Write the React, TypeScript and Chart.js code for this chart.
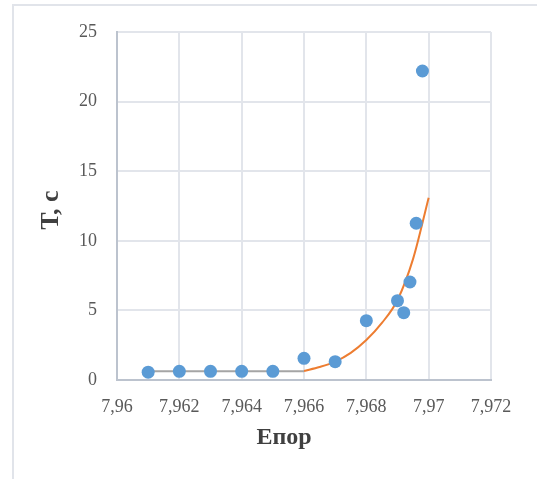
import React, { useEffect, useRef } from 'react';
import { Chart, registerables } from 'chart.js';

Chart.register(...registerables);

// Measured points
const pointX = [7.961, 7.962, 7.963, 7.964, 7.965, 7.966, 7.967, 7.968, 7.969, 7.9692, 7.9694, 7.9696, 7.9698];
const pointT = [0.56, 0.62, 0.62, 0.62, 0.62, 1.56, 1.32, 4.26, 5.7, 4.84, 7.04, 11.26, 22.2];

// Flat (gray) segment
const flatX = [7.961, 7.966];
const flatT = [0.62, 0.62];

// Trend (orange) curve
const trendX = [7.966, 7.9665, 7.967, 7.9675, 7.968, 7.9685, 7.969, 7.9695, 7.97];
const trendT = [0.65, 0.93, 1.32, 1.95, 2.87, 4.1, 5.75, 8.7, 13.1];

// Ticks
const xTickValues = [7.96, 7.962, 7.964, 7.966, 7.968, 7.97, 7.972];
const xTickLabels = ['7,96', '7,962', '7,964', '7,966', '7,968', '7,97', '7,972'];
const yTickValues = [0, 5, 10, 15, 20, 25];
const yTickLabels = ['0', '5', '10', '15', '20', '25'];

const xTitle = 'Епор';
const yTitle = 'Т, с';

const SERIF = '"Liberation Serif", "Times New Roman", serif';

const titlePlugin = {
  id: 'axisTitlesCustom',
  afterDraw(chart: any) {
    const ctx = chart.ctx;
    const area = chart.chartArea;
    ctx.save();
    ctx.fillStyle = '#404040';
    ctx.textAlign = 'center';
    ctx.textBaseline = 'alphabetic';
    ctx.font = 'bold 24px ' + SERIF;
    ctx.fillText(xTitle, area.left + 167, 444);
    ctx.translate(58, (area.top + area.bottom) / 2 + 4);
    ctx.rotate(-Math.PI / 2);
    ctx.font = 'bold 26px ' + SERIF;
    ctx.fillText(yTitle, 0, 0);
    ctx.restore();
  },
};

export default function App() {
  const ref = useRef<HTMLCanvasElement | null>(null);

  useEffect(() => {
    if (!ref.current) return;
    const chart = new Chart(ref.current, {
      type: 'scatter',
      data: {
        datasets: [
          {
            label: 'T',
            data: pointX.map((x, i) => ({ x, y: pointT[i] })),
            backgroundColor: '#5B9BD5',
            borderColor: '#5B9BD5',
            borderWidth: 0,
            pointRadius: 6.5,
            showLine: false,
          },
          {
            label: 'flat',
            data: flatX.map((x, i) => ({ x, y: flatT[i] })),
            borderColor: '#A5A5A5',
            borderWidth: 2,
            pointRadius: 0,
            showLine: true,
          },
          {
            label: 'trend',
            data: trendX.map((x, i) => ({ x, y: trendT[i] })),
            borderColor: '#ED7D31',
            borderWidth: 2,
            pointRadius: 0,
            showLine: true,
            cubicInterpolationMode: 'monotone',
          },
        ],
      } as any,
      options: {
        animation: false,
        responsive: false,
        devicePixelRatio: 1,
        layout: { padding: { left: 0, top: 32, right: 46, bottom: 0 } },
        plugins: {
          legend: { display: false },
          tooltip: { enabled: false },
        },
        scales: {
          x: {
            type: 'linear',
            min: 7.96,
            max: 7.972,
            afterBuildTicks: (scale: any) => {
              scale.ticks = xTickValues.map((v) => ({ value: v }));
            },
            afterFit: (scale: any) => {
              scale.height = 99;
            },
            ticks: {
              callback: (_v: any, i: number) => xTickLabels[i],
              color: '#595959',
              font: { family: SERIF, size: 18 },
              padding: 16,
              maxRotation: 0,
            },
            grid: { color: '#e2e5eb', lineWidth: 2, drawTicks: false },
            border: { color: '#bcc3ce', width: 2 },
          },
          y: {
            type: 'linear',
            min: 0,
            max: 25,
            afterBuildTicks: (scale: any) => {
              scale.ticks = yTickValues.map((v) => ({ value: v }));
            },
            afterFit: (scale: any) => {
              scale.width = 117;
            },
            ticks: {
              callback: (_v: any, i: number) => yTickLabels[i],
              color: '#595959',
              font: { family: SERIF, size: 18 },
              padding: 20,
            },
            grid: { color: '#e2e5eb', lineWidth: 2, drawTicks: false },
            border: { color: '#bcc3ce', width: 2 },
          },
        },
      } as any,
      plugins: [titlePlugin],
    });
    return () => chart.destroy();
  }, []);

  return (
    <div style={{ position: 'fixed', left: 0, top: 0, width: 537, height: 479, background: '#fff', overflow: 'hidden' }}>
      <div
        style={{
          position: 'absolute',
          left: 12,
          top: 4,
          width: 600,
          height: 600,
          border: '2px solid #e1e4ea',
        }}
      />
      <canvas ref={ref} width={537} height={479} style={{ position: 'absolute', left: 0, top: 0, width: 537, height: 479 }} />
    </div>
  );
}
